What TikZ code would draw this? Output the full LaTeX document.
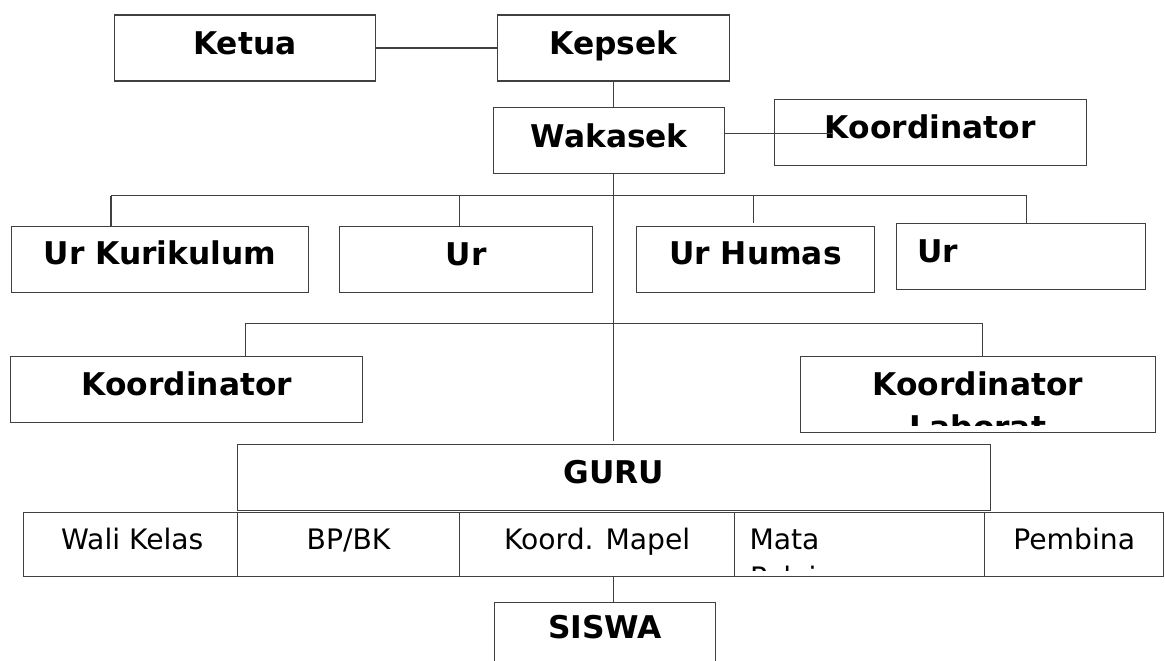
\documentclass[tikz,border=0pt]{standalone}
\usepackage{fontspec}
\setmainfont{DejaVu Sans}
\usepackage{tikz}
\usetikzlibrary{calc}
\newcommand{\bigbf}{\fontsize{31.3pt}{37pt}\selectfont\bfseries}
\newcommand{\smallrm}{\fontsize{28.2pt}{34pt}\selectfont}

\begin{document}
\begin{tikzpicture}[
  x=1pt,y=-1pt,
  box/.style={rectangle,draw=black!75,line width=1.1pt,anchor=north west,inner sep=0pt,font=\bigbf},
  cell/.style={box,font=\smallrm,minimum height=64pt,text height=37pt,text depth=27pt},
  ln/.style={draw=black!75,line width=1.1pt},
  cliptxt/.style={draw=none,inner sep=0pt,minimum width=0pt,minimum height=0pt}
]
\useasboundingbox (0,0) rectangle (1165,661);

% top levels
\node[box,minimum width=261pt,minimum height=66pt,text height=39.8pt,text depth=26.2pt] (ketua) at (113.7,14.5) {Ketua};
\node[box,minimum width=232.3pt,minimum height=66pt,text height=39.5pt,text depth=26.5pt] (kepsek) at (496.7,14.5) {Kepsek};
\node[box,minimum width=231.3pt,minimum height=66.2pt,text height=39.7pt,text depth=26.5pt] (wakasek) at (493,107) {Wakasek};
\node[box,minimum width=312pt,minimum height=66.5pt,text height=39.8pt,text depth=26.7pt] (koordwk) at (773.7,98.5) {Koordinator};

% urusan
\node[box,minimum width=297.6pt,minimum height=66.2pt,text height=38.5pt,text depth=27.7pt] (urkur) at (10.7,225.8) {Ur Kurikulum};
\node[box,minimum width=253.6pt,minimum height=66pt,text height=39pt,text depth=27pt] (ur2) at (338.7,226) {Ur};
\node[box,minimum width=237.7pt,minimum height=66.3pt,text height=38.6pt,text depth=27.7pt] (urhumas) at (636,225.7) {Ur Humas};
\node[box,minimum width=248.6pt,minimum height=66.6pt,text height=39pt,text depth=27.6pt] (ur4) at (896,222.7) {\makebox[207.2pt][l]{Ur}};

% koordinator
\node[box,minimum width=352pt,minimum height=66.5pt,text height=39.3pt,text depth=27.2pt] (koordbk) at (10.3,355.7) {Koordinator};
\node[box,minimum width=354.5pt,minimum height=76.6pt,text height=39.3pt,text depth=37.3pt,
  path picture={
    \clip (path picture bounding box.north west) rectangle ([yshift=7.3pt]path picture bounding box.south east);
    \node[cliptxt,font=\bigbf,anchor=base] (labtxt) at ([yshift=-82pt]path picture bounding box.north) {Laborat};
  }] (koordlab) at (800,355.7) {Koordinator};

% guru and row
\node[box,minimum width=753.5pt,minimum height=66.2pt,text height=38.7pt,text depth=27.5pt] (guru) at (236.7,444) {GURU};
\node[cell,minimum width=214pt] (wali) at (22.7,512) {\hspace{4pt}Wali Kelas};
\node[cell,minimum width=222.5pt] (bpbk) at (236.7,512) {BP/BK};
\node[cell,minimum width=274.8pt] (mapel) at (459.2,512) {Koord. Mapel};
\node[cell,minimum width=250pt,
  path picture={
    \clip (path picture bounding box.north west) rectangle ([yshift=6pt]path picture bounding box.south east);
    \node[cliptxt,font=\smallrm,anchor=base west] (pltxt) at ([xshift=15pt,yshift=-75pt]path picture bounding box.north west) {Pelajaran};
  }] (mata) at (734,512) {\makebox[220pt][l]{Mata}};
\node[cell,minimum width=179.2pt] (pembina) at (984,512) {Pembina};

\node[box,minimum width=221.6pt,minimum height=70pt,text height=36pt,text depth=34pt] (siswa) at (493.7,602.3) {SISWA};

% connectors
\coordinate (spine) at (613.3,0);
\coordinate (kend) at (831.7,133.3);
\coordinate (b1l) at (111,195.7);
\coordinate (b1b) at (459.3,195.7);
\coordinate (b1c) at (753.3,195.7);
\coordinate (b1r) at (1026.7,195.7);
\coordinate (b2l) at (245.7,323.2);
\coordinate (b2r) at (982.7,323.2);

\draw[ln] (ketua.east) -- (kepsek.west);
\draw[ln] (spine |- kepsek.south) -- (spine |- wakasek.north);
\draw[ln] (wakasek.east |- kend) -- (kend);
\draw[ln,shorten >=3.3pt] (spine |- wakasek.south) -- (spine |- guru.north);
\draw[ln] (b1l) -- (b1r);
\draw[ln] (b1l) -- (b1l |- urkur.north);
\draw[ln] (b1b) -- (b1b |- ur2.north);
\draw[ln] (b1c) -- (b1c |- ur4.north);
\draw[ln] (b1r) -- (b1r |- ur4.north);
\draw[ln] (b2l) -- (b2r);
\draw[ln] (b2l) -- (b2l |- koordbk.north);
\draw[ln] (b2r) -- (b2r |- koordlab.north);
\draw[ln] (spine |- mapel.south) -- (spine |- siswa.north);
\end{tikzpicture}
\end{document}
